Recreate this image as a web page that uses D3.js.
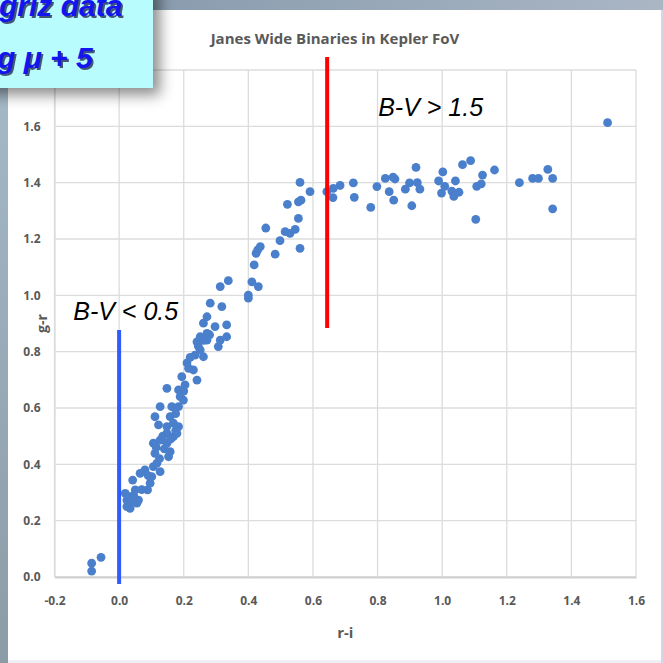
<!DOCTYPE html>
<html>
<head>
<meta charset="utf-8">
<script src="https://cdn.jsdelivr.net/npm/d3@7"></script>
<style>
  html, body { margin: 0; padding: 0; background: #fff; }
  svg { display: block; }
</style>
</head>
<body>
<svg id="chart"></svg>
<script>
// r-i colour of each star
const riValues = [
  -0.085, -0.085, -0.056,
  0.024, 0.019, 0.034, 0.055, 0.042, 0.050, 0.065, 0.080, 0.088, 0.096,
  0.106, 0.101, 0.127, 0.117, 0.111, 0.106, 0.127, 0.148, 0.153, 0.158,
  0.168, 0.179, 0.148, 0.148, 0.184, 0.158, 0.168, 0.111, 0.122, 0.127,
  0.148, 0.184, 0.163, 0.184, 0.194, 0.189, 0.199, 0.204, 0.215, 0.230,
  0.241, 0.235, 0.241, 0.251, 0.261, 0.251, 0.272, 0.272, 0.261, 0.272,
  0.282, 0.297, 0.307, 0.313, 0.333, 0.333, 0.318, 0.313, 0.338, 0.400,
  0.411, 0.431, 0.400, 0.418, 0.424, 0.429, 0.437, 0.454, 0.483, 0.498,
  0.514, 0.529, 0.545, 0.560, 0.555, 0.521, 0.555, 0.563, 0.560, 0.591,
  0.643, 0.663, 0.662, 0.684, 0.725, 0.728, 0.779, 0.798, 0.824, 0.848,
  0.854, 0.836, 0.850, 0.886, 0.899, 0.906, 0.919, 0.923, 0.931, 0.989,
  1.002, 1.008, 0.998, 1.030, 1.036, 1.052, 1.041, 1.063, 1.088, 1.104,
  1.107, 1.121, 1.125, 1.162, 1.239, 1.280, 1.298, 1.327, 1.342, 1.342,
  1.512,
  0.029, 0.039, 0.060, 0.024,
  0.115, 0.135, 0.140, 0.160, 0.175, 0.125, 0.090, 0.070, 0.200, 0.220,
  0.245, 0.262, 0.280, 0.045, 0.175, 0.210
];
// g-r colour of each star
const grValues = [
  0.049, 0.021, 0.070,
  0.273, 0.297, 0.244, 0.262, 0.344, 0.309, 0.368, 0.380, 0.309, 0.333,
  0.392, 0.356, 0.374, 0.404, 0.439, 0.475, 0.486, 0.475, 0.427, 0.445,
  0.498, 0.510, 0.510, 0.534, 0.534, 0.569, 0.546, 0.569, 0.540, 0.605,
  0.670, 0.605, 0.605, 0.664, 0.711, 0.640, 0.628, 0.682, 0.741, 0.735,
  0.699, 0.788, 0.835, 0.853, 0.782, 0.806, 0.841, 0.865, 0.901, 0.924,
  0.972, 0.889, 0.818, 0.841, 0.853, 0.895, 0.960, 1.031, 1.052, 1.001,
  1.048, 1.031, 0.990, 1.108, 1.149, 1.161, 1.173, 1.239, 1.146, 1.194,
  1.226, 1.220, 1.234, 1.167, 1.273, 1.323, 1.332, 1.338, 1.401, 1.368,
  1.368, 1.380, 1.347, 1.390, 1.399, 1.348, 1.312, 1.386, 1.415, 1.420,
  1.413, 1.368, 1.338, 1.377, 1.399, 1.318, 1.454, 1.400, 1.377, 1.406,
  1.438, 1.387, 1.363, 1.370, 1.351, 1.366, 1.406, 1.464, 1.478, 1.270,
  1.387, 1.396, 1.427, 1.445, 1.400, 1.415, 1.415, 1.447, 1.415, 1.307,
  1.613,
  0.285, 0.267, 0.273, 0.250,
  0.460, 0.500, 0.455, 0.490, 0.520, 0.420, 0.360, 0.310, 0.660, 0.780,
  0.820, 0.840, 0.860, 0.290, 0.580, 0.760
];

const xTicks = [-0.2, 0.0, 0.2, 0.4, 0.6, 0.8, 1.0, 1.2, 1.4, 1.6];
const yTicks = [0.0, 0.2, 0.4, 0.6, 0.8, 1.0, 1.2, 1.4, 1.6];

// hand drawn colour cuts on the slide
const cutLabels = ["B-V < 0.5", "B-V > 1.5"];
const cutRi = [0.0, 0.644];
const cutLow = [-0.025, 0.884];
const cutHigh = [0.877, 1.846];

const W = 663, H = 663;
const plot = { left: 54.5, right: 636, top: 70, bottom: 577 };

const svg = d3.select("#chart").attr("width", W).attr("height", H);
const defs = svg.append("defs");

// slide background bits
const gLeft = defs.append("linearGradient").attr("id", "leftStrip")
  .attr("x1", 0).attr("y1", 0).attr("x2", 0).attr("y2", 1);
gLeft.append("stop").attr("offset", 0).attr("stop-color", "#a8bccb");
gLeft.append("stop").attr("offset", 1).attr("stop-color", "#8c9ca7");

const gTop = defs.append("linearGradient").attr("id", "topStrip")
  .attr("x1", 0).attr("y1", 0).attr("x2", 1).attr("y2", 0);
gTop.append("stop").attr("offset", 0).attr("stop-color", "#7f94a8");
gTop.append("stop").attr("offset", 1).attr("stop-color", "#aab6c4");

const shadow = defs.append("filter").attr("id", "boxShadow")
  .attr("x", "-20%").attr("y", "-20%").attr("width", "160%").attr("height", "160%");
shadow.append("feDropShadow").attr("dx", 7).attr("dy", 7).attr("stdDeviation", 7)
  .attr("flood-color", "#000").attr("flood-opacity", 0.45);

svg.append("rect").attr("width", W).attr("height", H).attr("fill", "#eef0f3");
svg.append("rect").attr("x", 8).attr("y", 10).attr("width", 653).attr("height", 650).attr("fill", "#fff");
svg.append("rect").attr("x", 0).attr("y", 0).attr("width", W).attr("height", 10).attr("fill", "url(#topStrip)");
svg.append("rect").attr("x", 0).attr("y", 0).attr("width", 8).attr("height", H).attr("fill", "url(#leftStrip)");
svg.append("rect").attr("x", 661).attr("y", 10).attr("width", 2).attr("height", H).attr("fill", "#d6d6e6");

const x = d3.scaleLinear().domain([-0.2, 1.6]).range([plot.left, plot.right]);
const y = d3.scaleLinear().domain([0, 1.8]).range([plot.bottom, plot.top]);
const fmt = d => d.toFixed(1);

// gridlines
svg.append("g").attr("class", "grid")
  .selectAll("line.v").data(xTicks).join("line")
  .attr("x1", d => x(d)).attr("x2", d => x(d))
  .attr("y1", y(1.8)).attr("y2", y(0))
  .attr("stroke", "#dcdcdc").attr("stroke-width", 1.3);
svg.append("g").attr("class", "grid")
  .selectAll("line.h").data(yTicks.concat([1.8])).join("line")
  .attr("x1", x(-0.2)).attr("x2", x(1.6))
  .attr("y1", d => y(d)).attr("y2", d => y(d))
  .attr("stroke", "#dcdcdc").attr("stroke-width", 1.3);

// axes
const xAxis = svg.append("g")
  .attr("transform", `translate(0, ${plot.bottom})`)
  .call(d3.axisBottom(x).tickValues(xTicks).tickFormat(fmt).tickSize(0).tickPadding(19));
xAxis.select(".domain").attr("stroke", "#d0d0d0").attr("stroke-width", 2);

const yAxis = svg.append("g")
  .attr("transform", `translate(${plot.left}, 0)`)
  .call(d3.axisLeft(y).tickValues(yTicks).tickFormat(fmt).tickSize(0).tickPadding(14));
yAxis.select(".domain").attr("stroke", "#dcdcdc").attr("stroke-width", 1.3);

svg.selectAll(".tick text")
  .style("font-family", "'Open Sans', sans-serif")
  .style("font-weight", "bold")
  .style("font-size", "12px")
  .attr("fill", "#595959");

// points
svg.append("g").selectAll("circle")
  .data(riValues.map((r, i) => ({ r, g: grValues[i] })))
  .join("circle")
  .attr("cx", d => x(d.r))
  .attr("cy", d => y(d.g))
  .attr("r", 4.4)
  .attr("fill", "#4a7fcc");

// cut lines + labels
const cutColors = ["#2e5cff", "#ff0000"];
svg.append("g").selectAll("line")
  .data(cutRi)
  .join("line")
  .attr("x1", d => x(d)).attr("x2", d => x(d))
  .attr("y1", (d, i) => y(cutLow[i])).attr("y2", (d, i) => y(cutHigh[i]))
  .attr("stroke", (d, i) => cutColors[i])
  .attr("stroke-width", 4);

const labelPos = [[-0.142, 0.912], [0.802, 1.637]];
svg.append("g").selectAll("text")
  .data(cutLabels)
  .join("text")
  .attr("x", (d, i) => x(labelPos[i][0]))
  .attr("y", (d, i) => y(labelPos[i][1]))
  .attr("font-family", "'Liberation Sans', Arial, sans-serif")
  .attr("font-style", "italic")
  .attr("font-size", 25)
  .attr("fill", "#000")
  .text(d => d);

// titles
svg.append("text")
  .attr("x", 335).attr("y", 44)
  .attr("text-anchor", "middle")
  .attr("font-family", "'Open Sans', sans-serif")
  .attr("font-weight", "bold").attr("font-size", 15)
  .attr("fill", "#595959")
  .text("Janes Wide Binaries in Kepler FoV");

svg.append("text")
  .attr("x", (plot.left + plot.right) / 2).attr("y", 638)
  .attr("text-anchor", "middle")
  .attr("font-family", "'Open Sans', sans-serif")
  .attr("font-weight", "bold").attr("font-size", 15)
  .attr("fill", "#595959")
  .text("r-i");

svg.append("text")
  .attr("transform", `translate(47, ${(plot.top + plot.bottom) / 2}) rotate(-90)`)
  .attr("text-anchor", "middle")
  .attr("font-family", "'Open Sans', sans-serif")
  .attr("font-weight", "bold").attr("font-size", 14)
  .attr("fill", "#595959")
  .text("g-r");

// cyan note box from the slide, cut off at the corner
const note = svg.append("g");
note.append("rect").attr("x", -20).attr("y", -20).attr("width", 173).attr("height", 108)
  .attr("fill", "#b9fcfe").attr("filter", "url(#boxShadow)");
const noteLines = [["griz data", -1, 16], ["g \u03bc + 5", -3, 68]];
noteLines.forEach(([t, tx, ty]) => {
  note.append("text").attr("x", tx + 2).attr("y", ty + 2)
    .attr("font-family", "'Liberation Sans', Arial, sans-serif")
    .attr("font-weight", "bold").attr("font-style", "italic").attr("font-size", 30)
    .attr("fill", "#101040").attr("opacity", 0.7).text(t);
  note.append("text").attr("x", tx).attr("y", ty)
    .attr("font-family", "'Liberation Sans', Arial, sans-serif")
    .attr("font-weight", "bold").attr("font-style", "italic").attr("font-size", 30)
    .attr("fill", "#1414f0").text(t);
});
</script>
</body>
</html>
